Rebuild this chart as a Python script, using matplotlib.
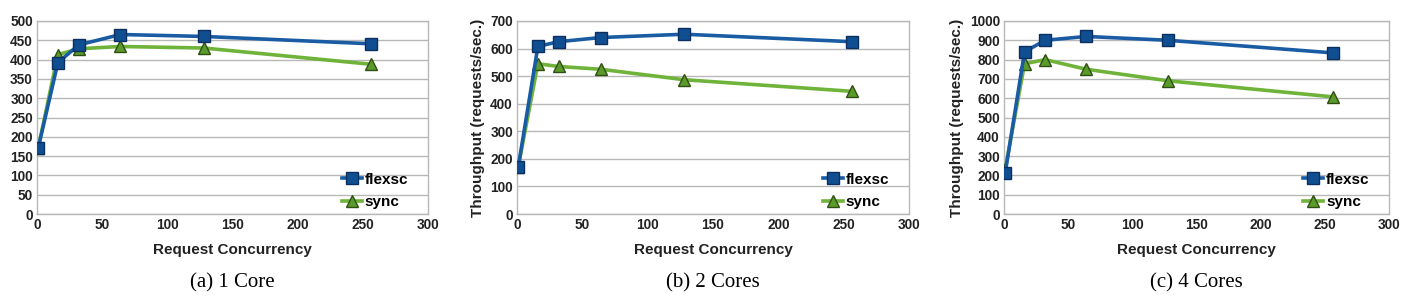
import matplotlib
matplotlib.use('Agg')
import matplotlib.pyplot as plt

plt.rcParams['font.family'] = ['Liberation Sans', 'DejaVu Sans']

concurrency = [1, 16, 32, 64, 128, 256]

flexsc_1core = [172, 392, 438, 465, 460, 441]
sync_1core = [172, 413, 428, 434, 430, 388]

flexsc_2core = [172, 608, 625, 640, 652, 625]
sync_2core = [172, 545, 535, 525, 487, 445]

flexsc_4core = [215, 840, 900, 920, 900, 835]
sync_4core = [235, 778, 800, 750, 690, 607]

captions = ['(a) 1 Core', '(b) 2 Cores', '(c) 4 Cores']
ymax = [500, 700, 1000]
ystep = [50, 100, 100]

W, H = 1407, 302
fig = plt.figure(figsize=(W / 100, H / 100), dpi=100)

# axes boxes in pixels: left, right, top, bottom
boxes = [(37, 428, 21, 214), (517, 909, 21, 214), (1004, 1389, 21, 214)]

blue = '#1a5ca3'
blue_dark = '#0b2f5e'
green = '#6fb33a'
green_dark = '#2f4f12'

panels = [(flexsc_1core, sync_1core), (flexsc_2core, sync_2core), (flexsc_4core, sync_4core)]

for i, (l, r, t, b) in enumerate(boxes):
    ax = fig.add_axes([l / W, 1 - b / H, (r - l) / W, (b - t) / H])
    fl, sy = panels[i]
    ax.plot(concurrency, sy, color=green, lw=2.6, marker='^', ms=8,
            mfc='#5a9a2a', mec=green_dark, mew=1.0, label='sync', zorder=3)
    ax.plot(concurrency, fl, color=blue, lw=2.6, marker='s', ms=8,
            mfc='#104e92', mec=blue_dark, mew=1.0, label='flexsc', zorder=4)

    ax.set_xlim(0, 300)
    ax.set_ylim(0, ymax[i])
    ax.set_xticks(range(0, 301, 50))
    ax.set_yticks(range(0, ymax[i] + 1, ystep[i]))
    ax.grid(axis='y', color='#b8b8b8', lw=1.0)
    ax.set_axisbelow(True)
    for s in ax.spines.values():
        s.set_color('#b8b8b8')
        s.set_linewidth(1.0)
    ax.tick_params(length=0, pad=3, labelsize=9.8, labelcolor='#222222')
    for lab in ax.get_xticklabels() + ax.get_yticklabels():
        lab.set_fontweight('bold')

    ax.set_xlabel('Request Concurrency', fontsize=11, fontweight='bold',
                  color='#222222', labelpad=8)
    if i > 0:
        ax.set_ylabel('Throughput (requests/sec.)', fontsize=11, fontweight='bold',
                      color='#222222', labelpad=4)

    h, lb = ax.get_legend_handles_labels()
    ax.legend(h[::-1], lb[::-1], loc='lower right', bbox_to_anchor=(0.985, -0.045),
              frameon=False, handlelength=1.3, handletextpad=0.2,
              labelspacing=0.55, prop={'weight': 'bold', 'size': 11})

    ax.text(0.5, -0.355, captions[i], transform=ax.transAxes, ha='center', va='center',
            fontsize=15, family=['Liberation Serif', 'DejaVu Serif'])

fig.savefig('out.png', dpi=100)
